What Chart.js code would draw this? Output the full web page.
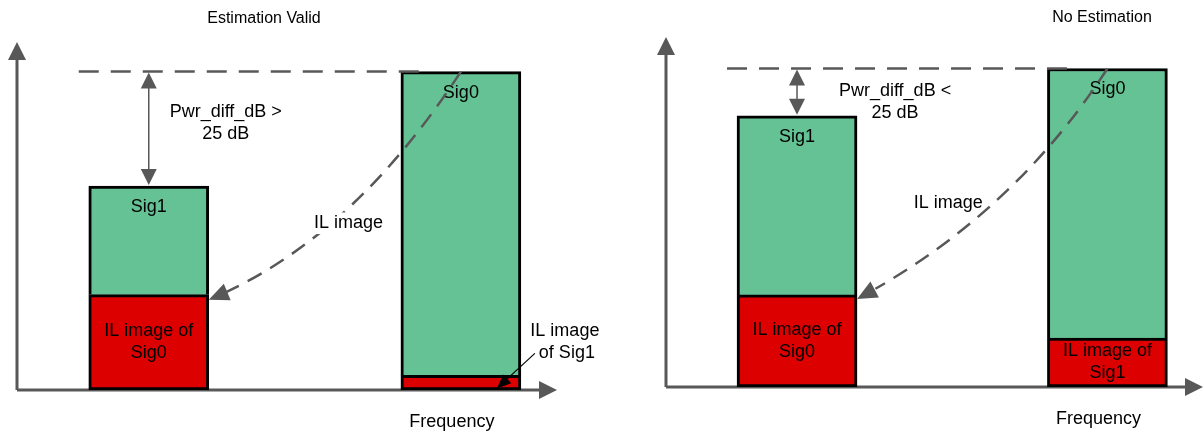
<!DOCTYPE html>
<html><head><meta charset="utf-8">
<script src="https://cdn.jsdelivr.net/npm/chart.js@4.4.0/dist/chart.umd.min.js"></script>
<style>
html,body{margin:0;padding:0;background:#fff;overflow:hidden}
#wrap{position:relative;width:1203px;height:432px;background:#fff}
.panel{position:absolute;top:0;height:432px}
canvas{display:block}
</style></head><body>
<div id="wrap">
<div class="panel" style="left:0;width:600px"><canvas id="c0" width="600" height="432"></canvas></div>
<div class="panel" style="left:600px;width:603px"><canvas id="c1" width="603" height="432"></canvas></div>
</div>
<script>
// ---- data ----
const barNames = ['Sig1', 'Sig0'];
const freqPositions = [24.4, 82.2];
const validSignalLevels = [58.6, 91.5];
const validImageLevels = [27.4, 4.2];
const noEstSignalLevels = [77.5, 91];
const noEstImageLevels = [26.3, 14];
const panelTitles = ['Estimation Valid', 'No Estimation'];
const pwrDiffLabels = [['Pwr_diff_dB >', '25 dB'], ['Pwr_diff_dB <', '25 dB']];
const inBarImageLabels = [[['IL image of', 'Sig0'], null], [['IL image of', 'Sig0'], ['IL image of', 'Sig1']]];
const outsideImageLabels = [['IL image', 'of Sig1'], null];
const curveLabel = 'IL image';
const axisLabel = 'Frequency';
const axisMax = 100;

// ---- styles ----
const GREEN = 'rgb(100,194,148)';
const RED = 'rgb(221,0,0)';
const GRAY = 'rgb(88,88,88)';
const FONT = "'Liberation Sans', Arial, sans-serif";

const layouts = [
  { padding:{left:17,right:43,top:42,bottom:42}, titleX:264, titleY:19,
    pwrDx:77, pwrDy:40, ctrl:[0.56,0.745], tipDy:5, curveLab:[0.64,0.68], curveLabBg:true },
  { padding:{left:66,right:0,top:37,bottom:45}, titleX:502, titleY:18,
    pwrDx:98, pwrDy:23, ctrl:[0.62,0.64], tipDy:4, curveLab:[0.487,0.595], curveLabBg:false }
];

function arrowHead(ctx, tipX, tipY, fromX, fromY, len, half, color) {
  const a = Math.atan2(tipY - fromY, tipX - fromX);
  const bx = tipX - len * Math.cos(a), by = tipY - len * Math.sin(a);
  ctx.save();
  ctx.fillStyle = color;
  ctx.beginPath();
  ctx.moveTo(tipX, tipY);
  ctx.lineTo(bx + half * Math.sin(a), by - half * Math.cos(a));
  ctx.lineTo(bx - half * Math.sin(a), by + half * Math.cos(a));
  ctx.closePath();
  ctx.fill();
  ctx.restore();
}

function text(ctx, s, x, y, size, bg) {
  ctx.save();
  ctx.font = size + 'px ' + FONT;
  ctx.textAlign = 'center';
  ctx.textBaseline = 'middle';
  if (bg) {
    const w = ctx.measureText(s).width;
    ctx.fillStyle = '#fff';
    ctx.fillRect(x - w / 2 - 3, y - size * 0.6, w + 6, size * 1.2);
  }
  ctx.fillStyle = '#000';
  ctx.fillText(s, x, y);
  ctx.restore();
}

function diagramPlugin(pi) {
  const L = layouts[pi];
  return {
    id: 'diagram' + pi,
    beforeDatasetsDraw(chart) {
      const ctx = chart.ctx, a = chart.chartArea;
      ctx.save();
      ctx.strokeStyle = GRAY;
      ctx.lineWidth = 3;
      ctx.beginPath();
      ctx.moveTo(a.left, a.bottom);
      ctx.lineTo(a.left, a.top + 15);
      ctx.moveTo(a.left, a.bottom);
      ctx.lineTo(a.right - 15, a.bottom);
      ctx.stroke();
      ctx.restore();
      arrowHead(ctx, a.left, a.top, a.left, a.bottom, 18, 9, GRAY);
      arrowHead(ctx, a.right, a.bottom, a.left, a.bottom, 18, 9, GRAY);
    },
    afterDatasetsDraw(chart) {
      const ctx = chart.ctx, a = chart.chartArea;
      const red = chart.getDatasetMeta(0).data;
      const grn = chart.getDatasetMeta(1).data;
      const s1 = grn[0], s0 = grn[1], r1 = red[0], r0 = red[1];

      // dashed reference line at Sig0 level
      ctx.save();
      ctx.strokeStyle = GRAY;
      ctx.lineWidth = 2.5;
      ctx.setLineDash([20, 12]);
      ctx.beginPath();
      ctx.moveTo(s1.x - s1.width / 2 - 10, s0.y);
      ctx.lineTo(s0.x - s0.width / 2 + 22, s0.y);
      ctx.stroke();
      ctx.restore();

      // double arrow for power difference
      ctx.save();
      ctx.strokeStyle = GRAY;
      ctx.lineWidth = 1.5;
      ctx.beginPath();
      ctx.moveTo(s1.x, s0.y + 10);
      ctx.lineTo(s1.x, s1.y - 10);
      ctx.stroke();
      ctx.restore();
      arrowHead(ctx, s1.x, s0.y + 1, s1.x, s1.y, 16, 8, GRAY);
      arrowHead(ctx, s1.x, s1.y - 1, s1.x, s0.y, 16, 8, GRAY);

      // pwr diff text
      const pl = pwrDiffLabels[pi];
      text(ctx, pl[0], s1.x + L.pwrDx, s0.y + L.pwrDy, 18);
      text(ctx, pl[1], s1.x + L.pwrDx, s0.y + L.pwrDy + 22, 18);

      // bar names
      text(ctx, barNames[0], s1.x, s1.y + 21, 18);
      text(ctx, barNames[1], s0.x, s0.y + 21, 18);

      // in-bar image labels
      const ib = inBarImageLabels[pi];
      [r1, r0].forEach((r, i) => {
        if (!ib[i]) return;
        const cy = (r.y + r.base) / 2;
        text(ctx, ib[i][0], r.x, cy - 11, 18);
        text(ctx, ib[i][1], r.x, cy + 11, 18);
      });

      // outside image label with arrow
      const ol = outsideImageLabels[pi];
      if (ol) {
        const rx = r0.x + r0.width / 2;
        text(ctx, ol[0], rx + 44, r0.y - 44, 18);
        text(ctx, ol[1], rx + 46, r0.y - 22, 18);
        const fx = rx + 14, fy = r0.y - 22, tx = rx - 24, ty = r0.y + 13;
        ctx.save();
        ctx.strokeStyle = '#000';
        ctx.lineWidth = 1.2;
        ctx.beginPath();
        ctx.moveTo(fx, fy);
        ctx.lineTo(tx + (fx - tx) * 0.2, ty + (fy - ty) * 0.2);
        ctx.stroke();
        ctx.restore();
        arrowHead(ctx, tx, ty, fx, fy, 14, 6, '#000');
      }

      // curved IL image arrow from Sig0 to Sig1
      const P0 = { x: s0.x, y: s0.y };
      const P2 = { x: s1.x + s1.width / 2, y: r1.y + L.tipDy };
      const C = { x: P2.x + L.ctrl[0] * (P0.x - P2.x), y: P0.y + L.ctrl[1] * (P2.y - P0.y) };
      const t = 0.94;
      const Cs = { x: P0.x + t * (C.x - P0.x), y: P0.y + t * (C.y - P0.y) };
      const Ex = (1 - t) * (1 - t) * P0.x + 2 * (1 - t) * t * C.x + t * t * P2.x;
      const Ey = (1 - t) * (1 - t) * P0.y + 2 * (1 - t) * t * C.y + t * t * P2.y;
      ctx.save();
      ctx.strokeStyle = GRAY;
      ctx.lineWidth = 2.5;
      ctx.setLineDash([16, 10]);
      ctx.beginPath();
      ctx.moveTo(P0.x, P0.y);
      ctx.quadraticCurveTo(Cs.x, Cs.y, Ex, Ey);
      ctx.stroke();
      ctx.restore();
      arrowHead(ctx, P2.x, P2.y, C.x, C.y, 20, 9, GRAY);

      // curve label
      const lx = s1.x + L.curveLab[0] * (s0.x - s1.x);
      const ly = s0.y + L.curveLab[1] * (r1.y - s0.y);
      text(ctx, curveLabel, lx, ly, 18, L.curveLabBg);

      // axis label and panel title
      text(ctx, axisLabel, s0.x - 9, a.bottom + 32, 18);
      text(ctx, panelTitles[pi], L.titleX, L.titleY, 16);
    }
  };
}

function makeChart(id, pi, sig, img) {
  return new Chart(document.getElementById(id), {
    type: 'bar',
    data: {
      datasets: [
        { label: 'IL image', data: freqPositions.map((x, i) => ({ x: x, y: img[i] })),
          backgroundColor: RED, borderColor: '#000', borderWidth: 3, borderSkipped: false, barThickness: 120 },
        { label: 'Signal', data: freqPositions.map((x, i) => ({ x: x, y: sig[i] - img[i] })),
          backgroundColor: GREEN, borderColor: '#000', borderWidth: { top: 3, left: 3, right: 3, bottom: 0 },
          borderSkipped: false, barThickness: 120 }
      ]
    },
    options: {
      responsive: false, animation: false, devicePixelRatio: 1,
      layout: { padding: layouts[pi].padding },
      plugins: { legend: { display: false }, tooltip: { enabled: false }, title: { display: false } },
      scales: {
        x: { type: 'linear', min: 0, max: axisMax, stacked: true, offset: false, display: false },
        y: { type: 'linear', min: 0, max: axisMax, stacked: true, display: false }
      }
    },
    plugins: [diagramPlugin(pi)]
  });
}

makeChart('c0', 0, validSignalLevels, validImageLevels);
makeChart('c1', 1, noEstSignalLevels, noEstImageLevels);
</script>
</body></html>
